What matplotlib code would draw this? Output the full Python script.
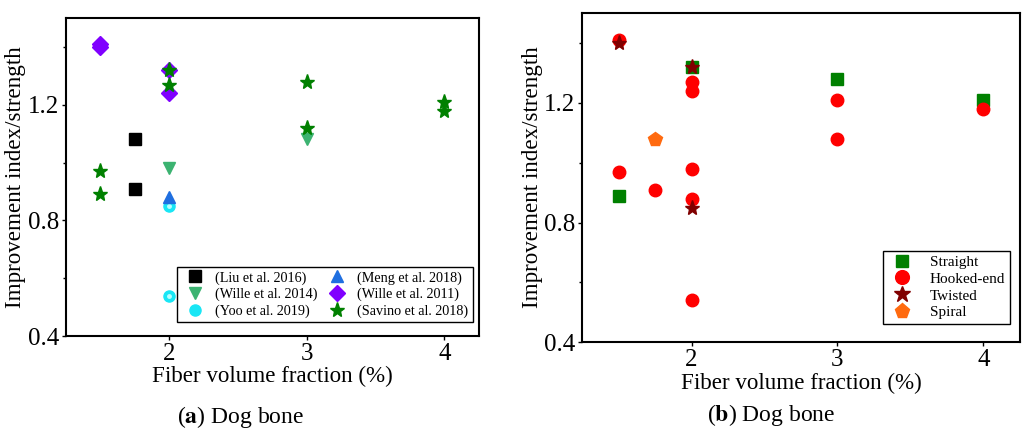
import matplotlib
matplotlib.use("Agg")
import matplotlib.pyplot as plt

plt.rcParams['font.family'] = ['Liberation Serif', 'DejaVu Serif']
plt.rcParams['mathtext.fontset'] = 'stix'

# ---- Panel (a): by study ----
liu_x = [1.75, 1.75]
liu_y = [1.08, 0.91]
wille14_x = [2, 3]
wille14_y = [0.98, 1.08]
yoo_x = [2, 2]
yoo_y = [0.85, 0.54]
meng_x = [2]
meng_y = [0.88]
wille11_x = [1.5, 1.5, 2, 2]
wille11_y = [1.41, 1.40, 1.32, 1.24]
savino_x = [2, 2, 1.5, 1.5, 3, 3, 4, 4]
savino_y = [1.32, 1.27, 0.97, 0.89, 1.28, 1.12, 1.21, 1.18]

# ---- Panel (b): by fiber type ----
straight_x = [1.5, 2, 3, 4]
straight_y = [0.89, 1.32, 1.28, 1.21]
hooked_x = [1.5, 1.5, 1.75, 2, 2, 2, 2, 2, 3, 3, 4]
hooked_y = [1.41, 0.97, 0.91, 1.27, 1.24, 0.98, 0.88, 0.54, 1.21, 1.08, 1.18]
twisted_x = [1.5, 2, 2]
twisted_y = [1.40, 1.32, 0.85]
spiral_x = [1.75]
spiral_y = [1.08]

xticks = [2, 3, 4]
yticks = [0.4, 0.8, 1.2]
yminor = [0.6, 1.0, 1.4]
xlim = (1.25, 4.25)
ylim = (0.4, 1.5)

fig = plt.figure(figsize=(10.23, 4.30), dpi=100)
ax1 = fig.add_axes([0.0645, 0.2186, 0.4035, 0.7394])
ax2 = fig.add_axes([0.569, 0.204, 0.428, 0.766])

ms = 8
ax1.plot(liu_x, liu_y, 's', color='black', ms=ms, ls='none', label='(Liu et al. 2016)')
ax1.plot(wille14_x, wille14_y, 'v', color='#3cb371', ms=ms + 1, ls='none', label='(Wille et al. 2014)')
ax1.plot(yoo_x, yoo_y, 'o', color='#19e6f5', ms=ms, ls='none', label='(Yoo et al. 2019)')
ax1.plot(yoo_x, yoo_y, 'o', color='#b8ffff', ms=2.5, ls='none')
ax1.plot(meng_x, meng_y, '^', color='#1f6fe0', ms=ms + 1, ls='none', label='(Meng et al. 2018)')
ax1.plot(wille11_x, wille11_y, 'D', color='#8000ff', ms=ms, ls='none', label='(Wille et al. 2011)')
ax1.plot(savino_x, savino_y, '*', color='#008000', ms=ms + 3, ls='none', label='(Savino et al. 2018)')

handles, labels = ax1.get_legend_handles_labels()
leg1 = ax1.legend(handles, labels, ncol=2, loc='lower right',
                  bbox_to_anchor=(0.985, 0.044), fontsize=10.2,
                  frameon=True, fancybox=False, edgecolor='black', framealpha=1,
                  borderpad=0.3, handletextpad=0.4, columnspacing=0.4,
                  handlelength=2.0, labelspacing=0.22, borderaxespad=0.0)
leg1.get_frame().set_linewidth(1.0)

ax2.plot(straight_x, straight_y, 's', color='#008000', ms=ms, ls='none', label='Straight')
ax2.plot(hooked_x, hooked_y, 'o', color='#ff0000', ms=ms + 1, ls='none', label='Hooked-end')
ax2.plot(twisted_x, twisted_y, '*', color='#800000', ms=ms + 3, ls='none', label='Twisted')
ax2.plot(spiral_x, spiral_y, 'p', color='#ff6a0f', ms=ms + 2, ls='none', label='Spiral')
leg2 = ax2.legend(loc='lower right', bbox_to_anchor=(0.977, 0.056), fontsize=11,
                  frameon=True, fancybox=False, edgecolor='black', framealpha=1,
                  borderpad=0.3, handletextpad=0.8, labelspacing=0.2,
                  borderaxespad=0.0, markerscale=1.1)
leg2.get_frame().set_linewidth(1.0)

for ax in (ax1, ax2):
    ax.set_xlim(*xlim)
    ax.set_ylim(*ylim)
    ax.set_xticks(xticks)
    ax.set_xticklabels([str(t) for t in xticks])
    ax.set_yticks(yticks)
    ax.set_yticklabels([f"{t:.1f}" for t in yticks])
    ax.set_yticks(yminor, minor=True)
    ax.tick_params(axis='both', which='major', direction='out', length=3, width=1,
                   labelsize=18, pad=2)
    ax.tick_params(axis='y', which='minor', direction='out', length=2, width=1)
    for s in ax.spines.values():
        s.set_linewidth(1.5)
    ax.set_xlabel('Fiber volume fraction (%)', fontsize=16.6, labelpad=1)
    ax.set_ylabel('Improvement index/strength', fontsize=16.6, labelpad=1)

fig.text(0.235, 0.03, r'($\mathbf{a}$) Dog bone', ha='center', va='center', fontsize=17)
fig.text(0.754, 0.035, r'($\mathbf{b}$) Dog bone', ha='center', va='center', fontsize=17)

fig.savefig('out.png', dpi=100)
